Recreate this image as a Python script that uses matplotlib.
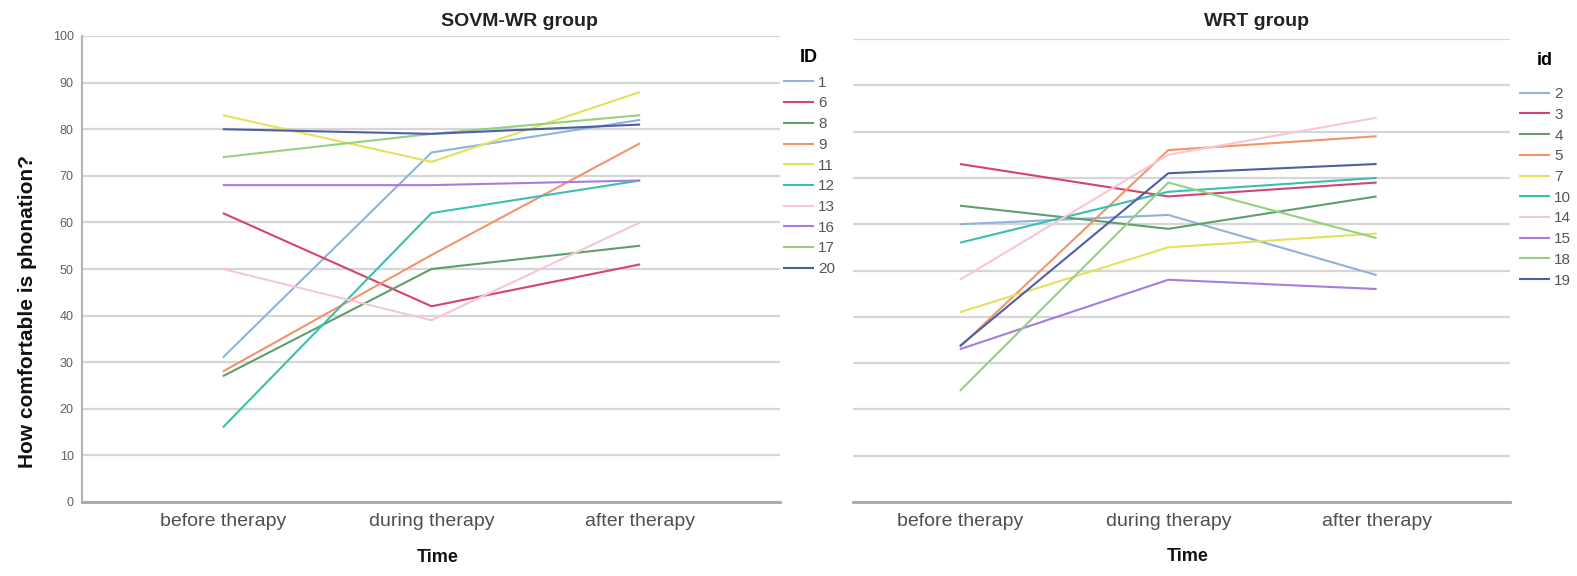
import matplotlib
matplotlib.use("Agg")
import matplotlib.pyplot as plt

plt.rcParams['font.family'] = ['Liberation Sans', 'DejaVu Sans']

# ---------------- data ----------------
time_labels = ["before therapy", "during therapy", "after therapy"]

left_ids = ["1", "6", "8", "9", "11", "12", "13", "16", "17", "20"]
left_before = [31, 62, 27, 28, 83, 16, 50, 68, 74, 80]
left_during = [75, 42, 50, 53, 73, 62, 39, 68, 79, 79]
left_after = [82, 51, 55, 77, 88, 69, 60, 69, 83, 81]

right_ids = ["2", "3", "4", "5", "7", "10", "14", "15", "18", "19"]
right_before = [60, 73, 64, 33.5, 41, 56, 48, 33, 24, 33.7]
right_during = [62, 66, 59, 76, 55, 67, 75, 48, 69, 71]
right_after = [49, 69, 66, 79, 58, 70, 83, 46, 57, 73]

palette = ["#8fb3dc", "#d4456c", "#5f9e6e", "#f2946a", "#e4e25a",
           "#3bbfae", "#f7c6d6", "#a47de0", "#93d17e", "#4e5fa6"]

W, H = 1577, 576
fig = plt.figure(figsize=(W / 100, H / 100), dpi=100)


def fx(px):
    return px / W


def fy(py):
    return 1 - py / H


def make_panel(rect, ids, before, during, after, title, title_x, leg_title,
               leg_xy, leg_sep, xlim, show_y):
    ax = fig.add_axes(rect)
    for i, lab in enumerate(ids):
        ax.plot(range(3), [before[i], during[i], after[i]],
                color=palette[i], lw=1.5, label=lab, solid_capstyle='butt')
    ax.set_xlim(*xlim)
    ax.set_ylim(0, 100)
    ax.set_yticks(range(0, 101, 10))
    ax.set_xticks(range(3))
    ax.set_xticklabels(time_labels, fontsize=14, color="#505050")
    ax.grid(axis='y', color="#d6d6d6", lw=1.6)
    ax.set_axisbelow(True)
    ax.tick_params(axis='both', length=0)
    ax.tick_params(axis='x', pad=8)
    ax.tick_params(axis='y', labelsize=9, labelcolor="#606060", pad=6)
    for s in ("top", "right"):
        ax.spines[s].set_visible(False)
    ax.spines['bottom'].set_color("#a8a8a8")
    ax.spines['bottom'].set_linewidth(2)
    if show_y:
        ax.spines['left'].set_color("#b4b4b4")
        ax.spines['left'].set_linewidth(1.5)
        ax.set_ylabel("How comfortable is phonation?", fontsize=15,
                      fontweight='bold', color="#111111")
        ax.yaxis.set_label_coords(-0.065, 0.408)
    else:
        ax.spines['left'].set_visible(False)
        ax.set_yticklabels([])
    ax.set_xlabel("Time", fontsize=13, fontweight='bold', color="#111111")
    ax.xaxis.set_label_coords(0.51, -0.100)
    fig.text(fx(title_x), fy(22), title, fontsize=14, fontweight='bold',
             ha='center', va='center', color="#222222")
    leg = ax.legend(title=leg_title, loc='upper left',
                    bbox_to_anchor=(fx(leg_xy[0]), fy(leg_xy[1])),
                    bbox_transform=fig.transFigure, frameon=False,
                    fontsize=11, handlelength=2.0, handletextpad=0.3,
                    labelspacing=0.44, borderpad=0, borderaxespad=0,
                    title_fontproperties={'weight': 'bold', 'size': 13})
    for t in leg.get_texts():
        t.set_color("#555555")
    leg._legend_box.sep = leg_sep
    return ax


ax1 = make_panel([fx(82), fy(502), fx(780 - 82), (502 - 36) / H],
                 left_ids, left_before, left_during, left_after,
                 "SOVM-WR group", 519, "ID", (783, 49), 7, (-0.675, 2.67), True)
ax2 = make_panel([fx(853), fy(502), fx(1510 - 853), (502 - 39) / H],
                 right_ids, right_before, right_during, right_after,
                 "WRT group", 1256, "id", (1519, 52), 13, (-0.513, 2.64), False)

fig.savefig("out.png", dpi=100, facecolor="white")
